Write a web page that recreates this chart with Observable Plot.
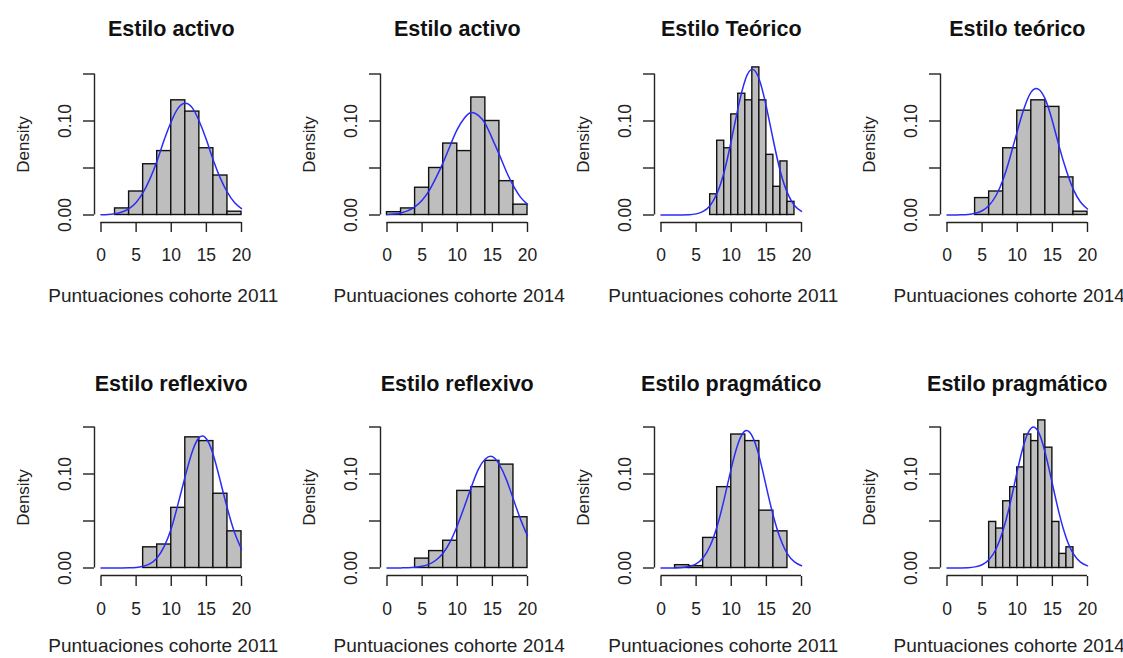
<!DOCTYPE html>
<html>
<head>
<meta charset="utf-8">
<script src="https://cdn.jsdelivr.net/npm/d3@7"></script>
<script src="https://cdn.jsdelivr.net/npm/@observablehq/plot@0.6"></script>
<style>
  html, body { margin: 0; padding: 0; background: #fff; overflow: hidden; }
  #chart { position: relative; width: 1123px; height: 658px; overflow: hidden; background: #fff; }
  .panel { position: absolute; }
  .panel svg { display: block; }
</style>
</head>
<body>
<div id="chart"></div>
<script>
// ---- data ----
const panelTitles = ["Estilo activo", "Estilo activo", "Estilo Teórico", "Estilo teórico",
                     "Estilo reflexivo", "Estilo reflexivo", "Estilo pragmático", "Estilo pragmático"];
const cohortLabels = ["Puntuaciones cohorte 2011", "Puntuaciones cohorte 2014",
                      "Puntuaciones cohorte 2011", "Puntuaciones cohorte 2014",
                      "Puntuaciones cohorte 2011", "Puntuaciones cohorte 2014",
                      "Puntuaciones cohorte 2011", "Puntuaciones cohorte 2014"];
const binStart = [2, 0, 7, 4, 6, 4, 2, 6];
const binWidth = [2, 2, 1, 2, 2, 2, 2, 1];

const activo2011    = [0.007, 0.025, 0.054, 0.068, 0.122, 0.110, 0.071, 0.042, 0.0035];
const activo2014    = [0.003, 0.007, 0.029, 0.050, 0.076, 0.068, 0.125, 0.100, 0.036, 0.011];
const teorico2011   = [0.022, 0.079, 0.071, 0.107, 0.129, 0.122, 0.157, 0.122, 0.064, 0.030, 0.057, 0.014];
const teorico2014   = [0.018, 0.025, 0.071, 0.111, 0.122, 0.115, 0.040, 0.0035];
const reflexivo2011 = [0.022, 0.025, 0.064, 0.139, 0.135, 0.079, 0.039];
const reflexivo2014 = [0.010, 0.018, 0.029, 0.082, 0.086, 0.114, 0.110, 0.054];
const pragmatico2011 = [0.003, 0.002, 0.032, 0.086, 0.142, 0.135, 0.061, 0.039];
const pragmatico2014 = [0.049, 0.042, 0.071, 0.086, 0.107, 0.142, 0.135, 0.157, 0.128, 0.049, 0.015, 0.022];

// density curves, read at x = 0..20
const curveX = [0,1,2,3,4,5,6,7,8,9,10,11,12,13,14,15,16,17,18,19,20];
const curveActivo2011    = [0.0002,0.0005,0.0014,0.0032,0.0068,0.0133,0.024,0.039,0.058,0.080,0.0995,0.114,0.119,0.114,0.0995,0.080,0.058,0.039,0.024,0.0133,0.0068];
const curveActivo2014    = [0.0004,0.0010,0.0022,0.0046,0.0089,0.0158,0.026,0.040,0.056,0.074,0.091,0.103,0.109,0.106,0.097,0.081,0.064,0.046,0.031,0.019,0.0113];
const curveTeorico2011   = [0,0,0.00002,0.0001,0.0003,0.0012,0.0038,0.0102,0.0235,0.046,0.079,0.115,0.144,0.155,0.144,0.115,0.079,0.046,0.0235,0.0102,0.0038];
const curveTeorico2014   = [0.00001,0.00005,0.0002,0.0006,0.0018,0.0045,0.0103,0.021,0.038,0.062,0.089,0.114,0.131,0.134,0.123,0.100,0.072,0.047,0.027,0.0139,0.0064];
const curveReflexivo2011 = [0,0,0.00001,0.00004,0.0002,0.0006,0.0018,0.0047,0.011,0.023,0.042,0.069,0.098,0.124,0.139,0.1375,0.120,0.092,0.063,0.038,0.020];
const curveReflexivo2014 = [0.00001,0.00003,0.0001,0.0003,0.0007,0.0018,0.0041,0.0085,0.016,0.028,0.045,0.065,0.086,0.105,0.116,0.1185,0.110,0.094,0.073,0.052,0.034];
const curvePragmatico2011 = [0,0.00003,0.0001,0.0005,0.0016,0.0044,0.011,0.0236,0.0446,0.0735,0.106,0.133,0.146,0.140,0.118,0.086,0.055,0.031,0.015,0.0065,0.0024];
const curvePragmatico2014 = [0,0.00002,0.0001,0.0003,0.0012,0.0035,0.0091,0.0205,0.0406,0.069,0.103,0.133,0.149,0.145,0.122,0.0896,0.057,0.0315,0.015,0.0063,0.0023];

const xTicks = [0, 5, 10, 15, 20];
const yTicks = [0, 0.05, 0.1, 0.15];
const yTickLabels = ["0.00", "", "0.10", ""];

const histValues = [activo2011, activo2014, teorico2011, teorico2014, reflexivo2011, reflexivo2014, pragmatico2011, pragmatico2014];
const curveValues = [curveActivo2011, curveActivo2014, curveTeorico2011, curveTeorico2014, curveReflexivo2011, curveReflexivo2014, curvePragmatico2011, curvePragmatico2014];

// ---- layout ----
const colZero = [100.5, 386.5, 660, 946];   // pixel of x = 0 in each column
const rowTop = [0, 353];
const rowTitleShift = [0, 2];
const rowLabelBaseline = [301, 298.5];
const W = 250, H = 330, ML = 100.5, PW = 140.5, MT = 73.5, Y0 = 214.5;
const font = "'Liberation Sans', Arial, Helvetica, sans-serif";

const chart = document.getElementById("chart");

histValues.forEach((vals, i) => {
  const col = i % 4, row = Math.floor(i / 4);
  const bins = vals.map((d, j) => ({x1: binStart[i] + j * binWidth[i], x2: binStart[i] + (j + 1) * binWidth[i], d}));
  const curve = curveX.map((x, j) => ({x, y: curveValues[i][j]}));
  const plot = Plot.plot({
    width: W, height: H,
    marginLeft: ML, marginRight: W - ML - PW, marginTop: MT, marginBottom: H - Y0,
    x: {domain: [0, 20]},
    y: {domain: [0, 0.15]},
    style: {fontFamily: font, background: "transparent", overflow: "visible", color: "#000"},
    marks: [
      Plot.rect(bins, {x1: "x1", x2: "x2", y1: 0, y2: "d", fill: "#bebebe", stroke: "#111", strokeWidth: 1.4}),
      Plot.line(curve, {x: "x", y: "y", stroke: "#2b2bf8", strokeWidth: 1.5, curve: "natural"}),
      Plot.ruleX([0], {y1: 0, y2: 0.15, dx: -6.5, stroke: "#222", strokeWidth: 1.4}),
      Plot.axisY({ticks: yTicks, tickSize: 11, dx: -6.5, tickPadding: 12.3, tickRotate: -90,
                  tickFormat: d => yTickLabels[yTicks.indexOf(d)] ?? "", fontSize: 17.5, label: null,
                  stroke: "#222", strokeWidth: 1.4, fill: "#222"}),
      Plot.ruleY([0], {x1: 0, x2: 20, dy: 7.5, stroke: "#222", strokeWidth: 1.4}),
      Plot.axisX({ticks: xTicks, tickSize: 10, dy: 7.5 + rowTitleShift[row] / 2, tickPadding: 16.3, fontSize: 17.5, label: null,
                  stroke: "#222", strokeWidth: 1.4, fill: "#222"}),
      Plot.text([panelTitles[i]], {frameAnchor: "top", dy: 35 + rowTitleShift[row] - MT, lineAnchor: "bottom",
                  fontWeight: "bold", fontSize: 21.5, fill: "#111"}),
      Plot.text([cohortLabels[i]], {frameAnchor: "bottom", dy: rowLabelBaseline[row] - Y0, dx: -8, lineAnchor: "bottom",
                  fontSize: 19, fill: "#222"}),
      Plot.text(["Density"], {frameAnchor: "left", rotate: -90, dx: 28.3 - ML, lineAnchor: "bottom",
                  textAnchor: "middle", fontSize: 17, fill: "#222"})
    ]
  });
  const div = document.createElement("div");
  div.className = "panel";
  div.style.left = (colZero[col] - ML) + "px";
  div.style.top = rowTop[row] + "px";
  div.appendChild(plot);
  chart.appendChild(div);
});
</script>
</body>
</html>
